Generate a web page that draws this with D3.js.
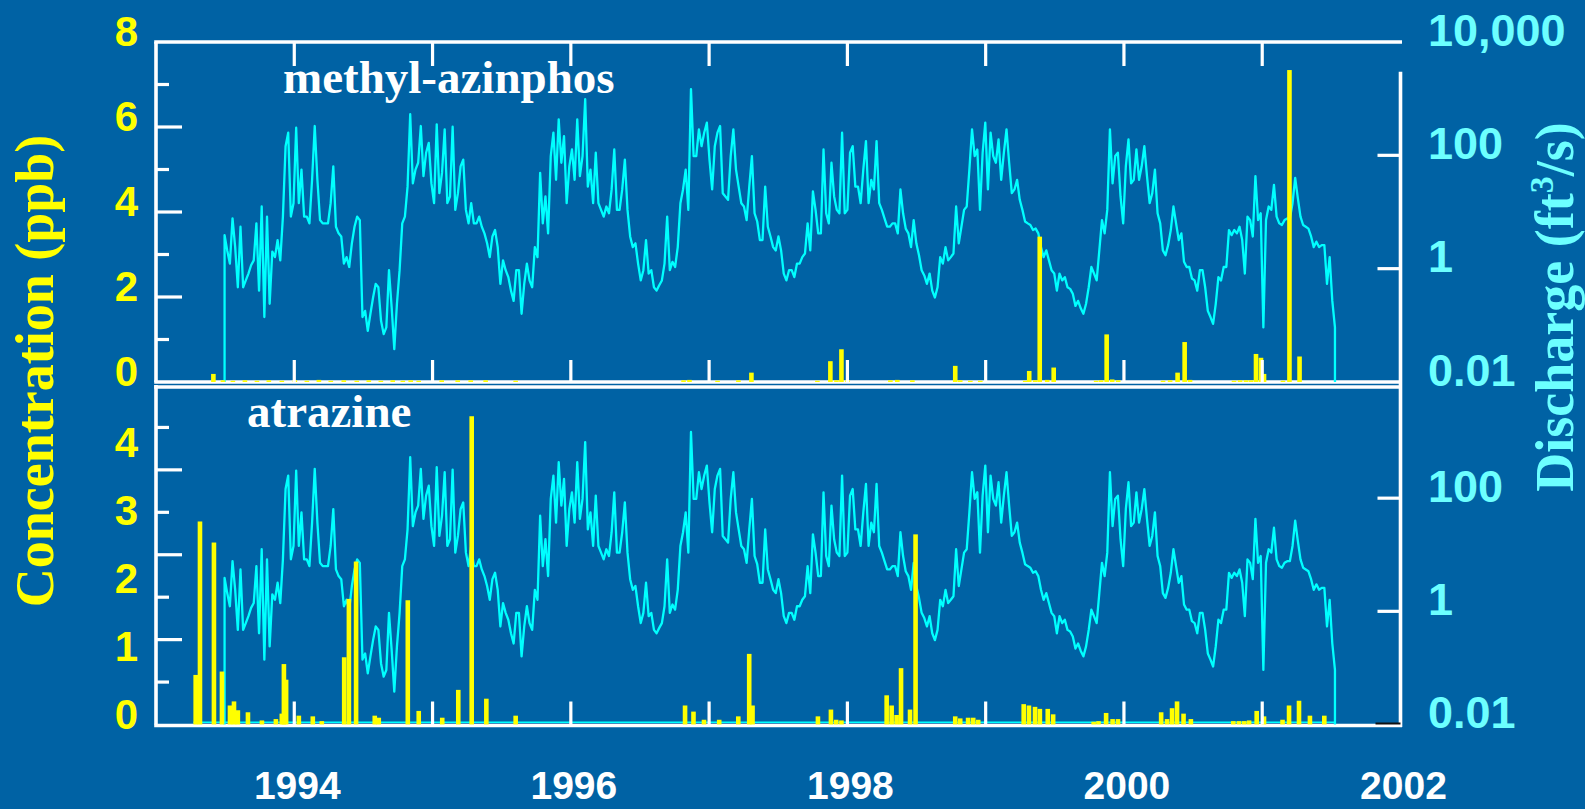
<!DOCTYPE html>
<html>
<head>
<meta charset="utf-8">
<script src="https://cdn.jsdelivr.net/npm/d3@7"></script>
<style>
  html, body { margin: 0; padding: 0; background: #0062A4; }
  svg { display: block; }
</style>
</head>
<body>
<svg id="chart" width="1585" height="809"></svg>
<script>
// ---- Data -------------------------------------------------------------
// Weekly stream discharge, ft³/s, one value every 7 days from dischargeStart
const dischargeStart = "1993-07-01";
const dischargeStepDays = 7;
const dischargeFloor = 0.01; // reporting floor at the ends of the record
const discharge = [
  3.9, 2.1, 1.23, 7.7, 2.4, 0.47, 5.5, 0.47, 0.62, 0.82,
  1.15, 1.4, 6.3, 0.41, 12.5, 0.14, 8.3, 0.24, 2.0, 1.6,
  3.2, 1.4, 8.3, 145, 251, 8.3, 14.3, 307, 14.3, 56,
  8.3, 8.3, 6.3, 37, 329, 37, 7.2, 6.3, 6.3, 6.3,
  14.3, 64, 5.5, 4.2, 3.7, 1.23, 1.6, 1.07, 2.8, 5.5,
  8.3, 7.2, 0.14, 0.18, 0.08, 0.16, 0.31, 0.54, 0.47, 0.12,
  0.07, 0.092, 0.94, 0.21, 0.038, 0.24, 0.94, 6.3, 8.3, 28,
  531, 32, 56, 74, 329, 43, 111, 166, 32, 14.3,
  353, 21.5, 49, 287, 14.3, 18.8, 320, 10.9, 21.5, 64,
  84, 10.9, 6.3, 14.3, 6.3, 6.3, 8.3, 5.5, 4.2, 2.8,
  1.6, 3.7, 4.8, 2.4, 0.54, 1.4, 0.94, 0.71, 0.41, 0.27,
  0.94, 0.94, 0.16, 0.54, 1.23, 0.62, 0.47, 2.4, 1.6, 49,
  6.3, 18.8, 4.2, 97, 251, 37, 432, 74, 219, 14.3,
  64, 127, 37, 432, 43, 97, 980, 28, 56, 14.3,
  111, 14.3, 10.9, 8.3, 12.5, 9.5, 25, 127, 10.9, 10.9,
  25, 84, 10.9, 3.7, 2.4, 2.8, 1.23, 0.62, 0.94, 3.2,
  0.82, 0.94, 0.47, 0.41, 0.51, 0.62, 1.23, 8.3, 0.94, 1.32,
  1.07, 2.4, 14.3, 25, 56, 10.9, 1476, 97, 97, 287,
  145, 251, 377, 84, 25, 145, 251, 329, 21.5, 18.8,
  16.4, 97, 287, 56, 28, 14.3, 12.5, 7.2, 28, 97,
  9.5, 6.8, 3.2, 3.2, 28, 5.5, 3.7, 2.4, 2.1, 3.7,
  2.1, 0.82, 0.62, 0.94, 0.94, 0.71, 1.23, 1.23, 1.6, 1.85,
  6.3, 2.1, 23, 10.9, 4.2, 4.2, 127, 9.5, 6.3, 74,
  18.8, 10.9, 9.5, 251, 9.5, 10.9, 111, 145, 28, 28,
  14.3, 56, 178, 14.3, 37, 25, 178, 14.3, 10.9, 7.7,
  5.5, 5.5, 6.3, 6.3, 4.2, 25, 9.5, 5.1, 4.2, 2.4,
  7.2, 2.8, 1.73, 0.94, 0.76, 0.54, 0.82, 0.41, 0.31, 0.47,
  1.6, 1.23, 2.4, 1.4, 1.6, 1.85, 12.5, 2.8, 5.5, 10.9,
  12.5, 56, 287, 97, 127, 10.9, 111, 377, 25, 251,
  97, 74, 191, 37, 111, 287, 74, 21.5, 25, 37,
  16.4, 10.9, 6.8, 6.3, 5.9, 4.8, 5.1, 4.2, 2.4, 1.6,
  2.1, 1.4, 0.94, 0.82, 0.41, 0.82, 0.62, 0.71, 0.47, 0.44,
  0.36, 0.22, 0.27, 0.20, 0.16, 0.24, 0.47, 1.07, 0.82, 0.62,
  2.1, 7.2, 4.2, 10.9, 287, 32, 97, 111, 18.8, 6.3,
  64, 191, 32, 37, 127, 37, 64, 145, 43, 14.3,
  21.5, 56, 9.5, 6.3, 2.1, 1.73, 2.6, 4.8, 12.5, 6.3,
  3.2, 4.2, 1.32, 1.07, 1.07, 0.67, 0.62, 0.41, 0.94, 0.94,
  0.47, 0.18, 0.14, 0.106, 0.24, 0.71, 0.62, 1.07, 1.07, 4.8,
  3.9, 4.8, 4.2, 5.5, 3.2, 0.82, 8.3, 7.2, 3.7, 43,
  7.2, 9.5, 0.092, 7.2, 12.5, 10.9, 30, 8.3, 6.3, 5.9,
  7.2, 7.7, 7.7, 14.3, 40, 17.6, 8.3, 5.9, 5.5, 5.1,
  3.7, 2.4, 3.0, 2.4, 2.6, 2.6, 0.54, 1.6, 0.27, 0.092
];

// Methyl-azinphos samples: decimal-year sample dates and concentrations (ppb)
const azinphosDates = [
  1993.415, 1993.484, 1993.556, 1993.643, 1993.730, 1993.816, 1993.910,
  1994.004, 1994.091, 1994.178, 1994.264, 1994.358, 1994.452, 1994.539,
  1994.626, 1994.712, 1994.785, 1994.842, 1994.900,
  1995.066, 1995.182, 1995.276, 1995.384, 1995.601,
  1996.815, 1996.858,
  1997.061, 1997.212, 1997.306, 1997.783, 1997.877, 1997.921, 1997.957,
  1998.000, 1998.311, 1998.361, 1998.470, 1998.780, 1998.816, 1998.889, 1998.961,
  1999.286, 1999.315, 1999.358, 1999.391, 1999.445, 1999.492,
  1999.799, 1999.835, 1999.875, 1999.915, 1999.958,
  2000.283, 2000.334, 2000.388, 2000.439, 2000.478,
  2000.796, 2000.840, 2000.883, 2000.919, 2000.955, 2000.991,
  2001.013, 2001.150, 2001.197, 2001.270
];
const azinphosConc = [
  0.19, 0.04, 0.03, 0.04, 0.03, 0.04, 0.03,
  0.04, 0.03, 0.05, 0.03, 0.04, 0.03, 0.04,
  0.03, 0.04, 0.03, 0.04, 0.03,
  0.04, 0.04, 0.04, 0.04, 0.03,
  0.04, 0.05,
  0.03, 0.04, 0.22, 0.03, 0.49, 0.04, 0.77,
  0.04, 0.04, 0.05, 0.04, 0.38, 0.04, 0.03, 0.03,
  0.03, 0.26, 0.04, 3.42, 0.05, 0.34,
  0.03, 0.04, 1.12, 0.06, 0.04,
  0.03, 0.04, 0.22, 0.94, 0.05,
  0.03, 0.04, 0.04, 0.04, 0.66, 0.57,
  0.19, 0.03, 7.34, 0.60
];

// Atrazine samples: decimal-year sample dates and concentrations (ppb)
const atrazineDates = [
  1993.287, 1993.318, 1993.419, 1993.477, 1993.535, 1993.564, 1993.592,
  1993.665, 1993.766, 1993.867, 1993.910, 1993.925, 1993.941,
  1994.033, 1994.134, 1994.199, 1994.361, 1994.395, 1994.447, 1994.582,
  1994.611, 1994.821, 1994.900,
  1995.070, 1995.186, 1995.283, 1995.389, 1995.601,
  1996.826, 1996.887, 1996.963,
  1997.073, 1997.211, 1997.290, 1997.314, 1997.787, 1997.881, 1997.919, 1997.957,
  1998.284, 1998.320, 1998.356, 1998.388, 1998.453, 1998.493, 1998.780,
  1998.816, 1998.873, 1998.910, 1998.946,
  1999.275, 1999.313, 1999.357, 1999.392, 1999.449, 1999.488, 1999.781,
  1999.816, 1999.871, 1999.918, 1999.957,
  2000.269, 2000.312, 2000.348, 2000.384, 2000.431, 2000.484, 2000.791,
  2000.832, 2000.870, 2000.905, 2000.960,
  2001.013, 2001.147, 2001.194, 2001.266, 2001.345, 2001.449
];
const atrazineConc = [
  0.73, 2.99, 2.68, 0.78, 0.28, 0.34, 0.21,
  0.18, 0.06, 0.08, 0.16, 0.89, 0.66,
  0.13, 0.12, 0.05, 0.99, 1.85, 2.40, 0.13,
  0.10, 1.83, 0.20,
  0.10, 0.51, 4.54, 0.38, 0.13,
  0.28, 0.19, 0.07,
  0.07, 0.12, 1.04, 0.28, 0.12, 0.22, 0.07, 0.06,
  0.43, 0.28, 0.14, 0.83, 0.22, 2.80, 0.12,
  0.09, 0.10, 0.10, 0.07,
  0.30, 0.28, 0.26, 0.23, 0.23, 0.15, 0.04,
  0.05, 0.17, 0.08, 0.08,
  0.18, 0.08, 0.24, 0.34, 0.16, 0.08, 0.05,
  0.05, 0.05, 0.06, 0.20,
  0.12, 0.07, 0.28, 0.35, 0.13, 0.13
];

// Axis ticks and labels
const yearTicks = [1994, 1995, 1996, 1997, 1998, 1999, 2000, 2001];
const yearLabels = [1994, 1996, 1998, 2000, 2002];
const azinphosLabels = [0, 2, 4, 6, 8];
const azinphosMinor = [1, 3, 5, 7];
const azinphosMajor = [2, 4, 6];
const atrazineLabels = [0, 1, 2, 3, 4];
const atrazineMarkMajor = [1, 2, 3];
const atrazineMarkMinor = [0.5, 1.5, 2.5, 3.5];
const dischargeLabelsTop = [0.01, 1, 100, 10000];
const dischargeLabelsBottom = [0.01, 1, 100];
const dischargeMarks = [1, 100];

// ---- Layout & style ---------------------------------------------------
const C = {
  white: "#FFFFFF", yellow: "#FFFF00", cyan: "#00FFFF", paleCyan: "#6CFFFF"
};
const sans = "'Liberation Sans', Arial, sans-serif";
const serif = "'Liberation Serif', 'Times New Roman', serif";
const left = 156, right = 1400.5;
const topPanel = { top: 42, bottom: 382 };
const botPanel = { top: 385, bottom: 724.5 };
const barW = 4.6;

const svg = d3.select("#chart");

// ---- Scales -----------------------------------------------------------
const x = d3.scaleLinear().domain([1993, 2002]).range([left, right]);
const yAz = d3.scaleLinear().domain([0, 8]).range([topPanel.bottom, topPanel.top]);
const yQTop = d3.scaleLog().domain([0.01, 10000]).range([topPanel.bottom, topPanel.top]);
const yAt = d3.scaleLinear().domain([0, 5]).range([botPanel.bottom, botPanel.top]);
const yAtMarks = d3.scaleLinear().domain([0, 4]).range([botPanel.bottom, botPanel.top]);
const yQBot = d3.scaleLog().domain([0.01, 10000]).range([botPanel.bottom, botPanel.top]);

// ---- Series construction ---------------------------------------------
function decimalYear(d) {
  const y = d.getUTCFullYear();
  const s = Date.UTC(y, 0, 1), e = Date.UTC(y + 1, 0, 1);
  return y + (d - s) / (e - s);
}
const start = d3.utcParse("%Y-%m-%d")(dischargeStart);
const flow = discharge.map((q, i) => ({
  t: decimalYear(d3.utcDay.offset(start, i * dischargeStepDays)), q
}));
const flowSeries = [
  { t: flow[0].t, q: dischargeFloor },
  ...flow,
  { t: flow[flow.length - 1].t, q: dischargeFloor }
];
const azinphos = azinphosDates.map((t, i) => ({ t, v: azinphosConc[i] }));
const atrazine = atrazineDates.map((t, i) => ({ t, v: atrazineConc[i] }));

// ---- Frames -----------------------------------------------------------
const frame = svg.append("g").attr("stroke", C.white).attr("stroke-width", 3.6).attr("fill", "none");
frame.append("line").attr("x1", left - 1.8).attr("x2", right + 1.5).attr("y1", topPanel.top).attr("y2", topPanel.top);
frame.append("line").attr("x1", left).attr("x2", left).attr("y1", topPanel.top).attr("y2", topPanel.bottom);
frame.append("line").attr("x1", left - 1.8).attr("x2", right + 1.5).attr("y1", topPanel.bottom).attr("y2", topPanel.bottom);
frame.append("line").attr("x1", left).attr("x2", left).attr("y1", botPanel.top).attr("y2", botPanel.bottom);
frame.append("line").attr("x1", left - 1.8).attr("x2", right + 1.5).attr("y1", botPanel.top + 2).attr("y2", botPanel.top + 2);
frame.append("line").attr("x1", left - 1.8).attr("x2", right + 1.5).attr("y1", botPanel.bottom + 1).attr("y2", botPanel.bottom + 1);
frame.append("line").attr("x1", right).attr("x2", right).attr("y1", yQTop(3000)).attr("y2", botPanel.bottom + 2.5);

// ---- Discharge lines --------------------------------------------------
function drawFlow(yScale) {
  const line = d3.line().x(d => x(d.t)).y(d => yScale(d.q));
  svg.append("path")
    .datum(flowSeries)
    .attr("d", line)
    .attr("fill", "none")
    .attr("stroke", C.cyan)
    .attr("stroke-width", 2.3)
    .attr("stroke-linejoin", "round");
}
drawFlow(yQTop);
drawFlow(yQBot);

// cyan zero line under the atrazine bars
svg.append("line")
  .attr("x1", x(atrazineDates[0]) - barW / 2)
  .attr("x2", x(flow[flow.length - 1].t))
  .attr("y1", yAt(0) - 2.2).attr("y2", yAt(0) - 2.2)
  .attr("stroke", C.cyan).attr("stroke-width", 1.4);

// ---- Concentration bars ----------------------------------------------
function drawBars(data, yScale) {
  svg.append("g").selectAll("rect")
    .data(data)
    .join("rect")
    .attr("x", d => x(d.t) - barW / 2)
    .attr("width", barW)
    .attr("y", d => yScale(d.v))
    .attr("height", d => yScale(0) - yScale(d.v))
    .attr("fill", C.yellow);
}
drawBars(azinphos, yAz);
drawBars(atrazine, yAt);

// ---- Tick marks (inward) ---------------------------------------------
const ticks = svg.append("g").attr("stroke", C.white).attr("stroke-width", 3.2);
// year ticks
yearTicks.forEach(yr => {
  ticks.append("line").attr("x1", x(yr)).attr("x2", x(yr)).attr("y1", topPanel.top).attr("y2", topPanel.top + 24);
  ticks.append("line").attr("x1", x(yr)).attr("x2", x(yr)).attr("y1", topPanel.bottom).attr("y2", topPanel.bottom - 22);
  ticks.append("line").attr("x1", x(yr)).attr("x2", x(yr)).attr("y1", botPanel.bottom).attr("y2", botPanel.bottom - 23);
});
// left ticks, methyl-azinphos
azinphosMajor.forEach(v => ticks.append("line").attr("x1", left).attr("x2", left + 26).attr("y1", yAz(v)).attr("y2", yAz(v)));
azinphosMinor.forEach(v => ticks.append("line").attr("x1", left).attr("x2", left + 13).attr("y1", yAz(v)).attr("y2", yAz(v)));
// left ticks, atrazine
atrazineMarkMajor.forEach(v => ticks.append("line").attr("x1", left).attr("x2", left + 26).attr("y1", yAtMarks(v)).attr("y2", yAtMarks(v)));
atrazineMarkMinor.forEach(v => ticks.append("line").attr("x1", left).attr("x2", left + 13).attr("y1", yAtMarks(v)).attr("y2", yAtMarks(v)));
// right ticks, discharge
dischargeMarks.forEach(q => {
  ticks.append("line").attr("x1", right - 23).attr("x2", right).attr("y1", yQTop(q)).attr("y2", yQTop(q));
  ticks.append("line").attr("x1", right - 23).attr("x2", right).attr("y1", yQBot(q)).attr("y2", yQBot(q));
});
svg.append("line").attr("x1", right - 25).attr("x2", right).attr("y1", yQBot(0.01) - 1).attr("y2", yQBot(0.01) - 1)
  .attr("stroke", "#111111").attr("stroke-width", 2);

// ---- Tick labels -----------------------------------------------------
const fmtQ = d3.format(",~g");
function labels(values, yScale, xPos, anchor, fill, size, dy) {
  svg.append("g").selectAll("text")
    .data(values)
    .join("text")
    .attr("x", xPos)
    .attr("y", d => yScale(d) + dy)
    .attr("text-anchor", anchor)
    .attr("font-family", sans)
    .attr("font-weight", "bold")
    .attr("font-size", size)
    .attr("fill", fill)
    .text(d => (yScale === yQTop || yScale === yQBot) ? fmtQ(d) : d);
}
labels(azinphosLabels, yAz, 138, "end", C.yellow, 42, 3.5);
labels(atrazineLabels, yAt, 138, "end", C.yellow, 42, 4);
labels(dischargeLabelsTop, yQTop, 1428, "start", C.paleCyan, 45, 3.5);
labels(dischargeLabelsBottom, yQBot, 1428, "start", C.paleCyan, 45, 3.5);

svg.append("g").selectAll("text")
  .data(yearLabels)
  .join("text")
  .attr("x", d => x(d) + 3)
  .attr("y", 799)
  .attr("text-anchor", "middle")
  .attr("font-family", sans)
  .attr("font-weight", "bold")
  .attr("font-size", 39)
  .attr("fill", C.white)
  .text(d => d);

// ---- Panel names -----------------------------------------------------
svg.append("text").attr("x", 283).attr("y", 93)
  .attr("font-family", serif).attr("font-weight", "bold").attr("font-size", 47)
  .attr("fill", C.white).text("methyl-azinphos");
svg.append("text").attr("x", 247).attr("y", 427)
  .attr("font-family", serif).attr("font-weight", "bold").attr("font-size", 47)
  .attr("fill", C.white).text("atrazine");

// ---- Axis titles -----------------------------------------------------
svg.append("text")
  .attr("transform", "translate(53,371) rotate(-90)")
  .attr("text-anchor", "middle")
  .attr("font-family", serif).attr("font-weight", "bold").attr("font-size", 54)
  .attr("fill", C.yellow)
  .text("Concentration (ppb)");

const rt = svg.append("text")
  .attr("transform", "translate(1573,307) rotate(-90)")
  .attr("text-anchor", "middle")
  .attr("font-family", serif).attr("font-weight", "bold").attr("font-size", 54)
  .attr("fill", C.paleCyan);
rt.append("tspan").text("Discharge (ft");
rt.append("tspan").attr("font-size", 34).attr("dy", -20).text("3");
rt.append("tspan").attr("dy", 20).text("/s)");
</script>
</body>
</html>
